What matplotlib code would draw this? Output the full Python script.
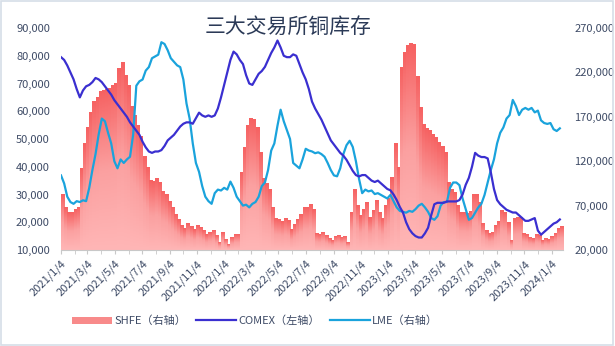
import numpy as np
import pandas as pd
import matplotlib
matplotlib.use("Agg")
import matplotlib.pyplot as plt
import matplotlib.dates as mdates
from matplotlib.colors import LinearSegmentedColormap
from matplotlib.patches import Patch, Rectangle
from matplotlib.lines import Line2D

plt.rcParams["font.family"] = ["Noto Sans CJK SC", "DejaVu Sans"]

# weekly observations, first week 2021-01-04 (values in thousand tonnes)
weeks = pd.date_range("2021-01-04", periods=160, freq="7D")

shfe_k = [
    82, 68, 62, 62, 66, 68, 112, 140, 158, 175,
    187, 192, 198, 200, 201, 202, 205, 208, 224, 231,
    216, 205, 182, 172, 160, 148, 125, 113, 98, 97,
    100, 96, 86, 83, 75, 68, 60, 54, 48, 44,
    50, 47, 43, 48, 45, 42, 37, 40, 42, 36,
    29, 40, 32, 26, 34, 37, 38, 107, 136, 160,
    168, 167, 158, 130, 100, 95, 88, 68, 55, 54,
    52, 56, 53, 43, 49, 54, 60, 68, 68, 71,
    66, 39, 38, 40, 36, 33, 31, 35, 36, 34,
    35, 29, 62, 88, 70, 59, 66, 74, 57, 65,
    76, 62, 56, 70, 78, 102, 140, 113, 226, 243,
    250, 253, 251, 215, 181, 161, 157, 155, 150, 147,
    141, 137, 130, 96, 88, 85, 70, 62, 62, 61,
    63, 82, 82, 74, 50, 42, 39, 40, 48, 52,
    65, 62, 51, 31, 56, 57, 57, 39, 37, 34,
    33, 37, 36, 31, 33, 32, 35, 39, 44, 47,
]

comex_k = [
    79.5, 78.5, 76.5, 74, 71.5, 68, 65, 67.5, 69, 69.5,
    70.5, 72, 71.5, 70.5, 69, 67.5, 66, 64, 62.5, 61,
    59.5, 58, 56, 54.5, 53, 51.5, 49, 47, 45.5, 45,
    45.5, 45.5, 46, 47.5, 49.5, 50.5, 51.5, 53, 54.5, 55.5,
    56, 56, 55.5, 57.5, 59.5, 58.5, 58, 58.5, 58, 58.5,
    61, 65, 69.5, 74, 78.5, 81.5, 80.5, 78.5, 77, 73,
    70, 69.5, 71.5, 73.5, 74.5, 76, 78.5, 81, 83, 85.5,
    83, 80, 79.5, 79.5, 80.5, 80, 77, 74, 71.5, 68,
    63.5, 61, 59, 57, 54.5, 52, 49.5, 48, 46.5, 45,
    44, 42.5, 40.5, 38.5, 37, 36.5, 37, 37, 36, 35,
    34.5, 35, 34, 33, 32, 31.5, 30, 28, 25.5, 23.5,
    20, 17.5, 16, 15, 14.5, 14.5, 16, 18, 22.5, 26.5,
    27, 27, 27, 27.5, 27.5, 27.5, 27.5, 28, 30, 33.5,
    36, 40, 45, 44, 43.5, 43.5, 43, 38, 32, 28,
    26.5, 25.5, 24.5, 24, 23.5, 23.5, 22.5, 21.5, 20.5, 20.5,
    21, 21.5, 17, 15.5, 16.5, 17.5, 18.5, 19.5, 20, 21,
]

lme_k = [
    104, 95, 80, 74, 72, 75, 74, 76, 75, 90,
    110, 128, 150, 168, 165, 152, 140, 120, 112, 122,
    118, 122, 125, 150, 205, 210, 212, 222, 226, 236,
    238, 240, 254, 252, 245, 236, 232, 228, 226, 212,
    185, 168, 140, 118, 108, 92, 80, 75, 72, 84,
    88, 87, 90, 88, 97, 90, 80, 75, 70, 71,
    68, 72, 74, 80, 92, 96, 110, 132, 140, 160,
    178, 165, 155, 145, 118, 115, 112, 122, 134, 132,
    131, 129, 130, 128, 125, 118, 110, 104, 103, 112,
    128, 138, 143, 136, 120, 100, 84, 88, 86, 87,
    83, 84, 82, 80, 78, 82, 75, 68, 64, 63,
    62, 64, 63, 66, 70, 72, 68, 63, 56, 54,
    58, 70, 74, 74, 90, 96, 96, 93, 78, 66,
    54, 56, 62, 68, 72, 82, 96, 110, 122, 140,
    152, 158, 168, 172, 189, 182, 172, 178, 180, 178,
    180, 175, 177, 166, 163, 162, 163, 156, 154, 157,
]

shfe = np.array(shfe_k) * 1000
comex = np.array(comex_k) * 1000
lme = np.array(lme_k) * 1000

title = "三大交易所铜库存"
tick_dates = pd.date_range("2021-01-01", "2024-01-01", freq="2MS") + pd.Timedelta(days=3)
minor_dates = pd.date_range("2021-01-01", "2024-01-01", freq="MS") + pd.Timedelta(days=3)

text_c = "#3E4B66"
comex_c = "#3A2FD0"
lme_c = "#1AA3DC"

fig = plt.figure(figsize=(6.15, 3.46), dpi=100)
fig.patches.append(Rectangle((0.002, 0.003), 0.995, 0.993, transform=fig.transFigure,
                             fill=False, edgecolor="#D6DEE8", lw=1.2))

# right-axis series live on the base axes, COMEX on the twin (drawn on top)
ax = fig.add_axes([0.0992, 0.2775, 0.8162, 0.6415])
ax2 = ax.twinx()

bars = ax.bar(weeks, shfe - 20000, bottom=20000, width=7, align="edge",
              color="none", edgecolor="none")
grad = np.linspace(0, 1, 64).reshape(-1, 1)
cmap = LinearSegmentedColormap.from_list("shfe", ["#FFB6B6", "#FBA0A0", "#F66262"])
for r in bars:
    x0, y0, w, h = r.get_x(), r.get_y(), r.get_width(), r.get_height()
    ax.imshow(grad, extent=[x0, x0 + w + 0.3, y0, y0 + h], origin="lower",
              aspect="auto", cmap=cmap, interpolation="bilinear", zorder=1)

ax.plot(weeks, lme, color=lme_c, lw=1.6, zorder=3)
ax2.plot(weeks, comex, color=comex_c, lw=1.6, zorder=3)

x_lo = mdates.date2num(pd.Timestamp("2021-01-04"))
x_hi = mdates.date2num(weeks[-1]) + 7
ax.set_xlim(x_lo, x_hi)
ax.set_ylim(20000, 270000)
ax2.set_ylim(10000, 90000)

ax.set_yticks(np.arange(20000, 270001, 50000))
ax2.set_yticks(np.arange(10000, 90001, 10000))
fmt = plt.FuncFormatter(lambda v, p: f"{int(v):,}")
ax.yaxis.set_major_formatter(fmt)
ax2.yaxis.set_major_formatter(fmt)

# base axes ticks on the right, twin on the left
ax.yaxis.tick_right()
ax2.yaxis.tick_left()
ax.tick_params(axis="y", length=0, pad=8, labelsize=8, labelcolor=text_c)
ax2.tick_params(axis="y", length=0, pad=8, labelsize=8, labelcolor=text_c)

ax.set_xticks(mdates.date2num(tick_dates))
ax.set_xticks(mdates.date2num(minor_dates), minor=True)
ax.set_xticklabels([f"{d.year}/{d.month}/{d.day}" for d in tick_dates],
                   rotation=45, ha="right", va="top", rotation_mode="anchor")
ax.tick_params(axis="x", which="both", length=3, color="#C8C8C8", pad=3,
               labelsize=8, labelcolor=text_c)
ax2.tick_params(axis="x", which="both", length=0)

for a in (ax, ax2):
    for s in ("top", "left", "right"):
        a.spines[s].set_visible(False)
    a.spines["bottom"].set_color("#C8C8C8")
ax2.spines["bottom"].set_visible(False)

fig.text(0.468, 0.922, title, ha="center", va="center", fontsize=15,
         color="#2B3A57")

handles = [
    Patch(facecolor="#F88A8A", edgecolor="none"),
    Line2D([], [], color=comex_c, lw=1.6),
    Line2D([], [], color=lme_c, lw=1.6),
]
labels = ["SHFE（右轴）", "COMEX（左轴）", "LME（右轴）"]
fig.legend(handles, labels, loc="center", bbox_to_anchor=(0.415, 0.072), ncol=3,
           frameon=False, fontsize=8, labelcolor=text_c, handlelength=3.6,
           handletextpad=0.2, columnspacing=0.9)

fig.savefig("out.png", dpi=100)
